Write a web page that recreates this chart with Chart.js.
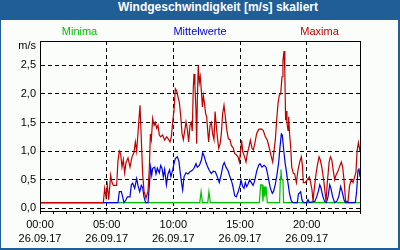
<!DOCTYPE html>
<html lang="de">
<head>
<meta charset="utf-8">
<title>Windgeschwindigkeit</title>
<script src="https://cdn.jsdelivr.net/npm/chart.js@4/dist/chart.umd.min.js"></script>
<style>
  html, body { margin: 0; padding: 0; background: #fff; }
  #rahmen {
    position: relative; width: 400px; height: 250px; box-sizing: border-box;
    background: #fafdfa; border-style: solid; border-color: #1f5e96;
    border-width: 20px 2px 2px 1px;
  }
  #titel {
    position: absolute; left: -1px; top: -20px; width: 400px; height: 20px;
    line-height: 20px; box-sizing: border-box; padding-left: 36px;
    text-align: center; color: #fff;
    font: bold 12px 'Liberation Sans', Arial, sans-serif;
  }
  #diagramm { display: block; }
</style>
</head>
<body>
<div id="rahmen">
  <div id="titel">Windgeschwindigkeit [m/s] skaliert</div>
  <canvas id="diagramm" width="397" height="228"></canvas>
</div>
<script>
const maxStunden = [0, 4.75, 4.85, 4.95, 5.05, 5.15, 5.3, 5.4, 5.5, 5.75, 5.85, 5.95, 6.05, 6.15, 6.25, 6.35, 6.45, 6.6, 6.75, 6.9,
  7.05, 7.15, 7.25, 7.4, 7.5, 7.6, 7.7, 7.8, 7.95, 8.1, 8.2, 8.28, 8.35, 8.45, 8.55, 8.65, 8.75, 8.85, 8.95, 9.05,
  9.2, 9.35, 9.5, 9.6, 9.75, 9.85, 9.95, 10.05, 10.15, 10.25, 10.35, 10.45, 10.55, 10.65, 10.75, 10.85, 10.95, 11.05, 11.15, 11.25,
  11.35, 11.42, 11.5, 11.55, 11.62, 11.7, 11.75, 11.8, 11.87, 11.95, 12.02, 12.1, 12.18, 12.25, 12.33, 12.42, 12.5, 12.58, 12.65, 12.75,
  12.85, 12.95, 13.05, 13.13, 13.22, 13.3, 13.4, 13.5, 13.6, 13.7, 13.8, 13.9, 14.0, 14.12, 14.25, 14.35, 14.5, 14.6, 14.75, 14.85,
  14.95, 15.05, 15.12, 15.2, 15.3, 15.45, 15.55, 15.65, 15.78, 15.9, 16.0, 16.1, 16.25, 16.4, 16.6, 16.75, 16.9, 17.05, 17.2, 17.35,
  17.45, 17.55, 17.65, 17.75, 17.85, 17.95, 18.05, 18.15, 18.22, 18.3, 18.36, 18.42, 18.47, 18.52, 18.6, 18.65, 18.72, 18.8, 18.88, 19.0,
  19.1, 19.23, 19.35, 19.48, 19.6, 19.68, 19.75, 19.9, 20.05, 20.2, 20.3, 20.4, 20.48, 20.55, 20.7, 20.8, 20.93, 21.03, 21.15, 21.3,
  21.45, 21.55, 21.68, 21.78, 21.88, 22.0, 22.1, 22.2, 22.35, 22.5, 22.6, 22.7, 22.8, 22.92, 23.1, 23.22, 23.35, 23.48, 23.6, 23.7,
  23.78, 23.88, 24.0];
const maxWerte = [0.1, 0.1, 0.35, 0.2, 0.4, 0.15, 0.58, 0.45, 0.4, 0.4, 0.84, 1.0, 0.95, 0.72, 0.85, 0.62, 0.8, 0.88, 0.72, 0.9,
  0.98, 1.16, 1.0, 1.48, 1.8, 1.2, 0.6, 0.3, 0.18, 0.3, 0.7, 1.3, 1.2, 1.57, 1.45, 1.5, 1.4, 1.45, 1.28, 1.25,
  1.28, 1.19, 1.25, 1.22, 1.16, 1.25, 1.51, 1.71, 2.09, 2.05, 1.95, 1.85, 1.63, 1.31, 1.2, 1.35, 1.51, 1.38, 1.16, 1.45,
  1.5, 1.35, 2.12, 2.35, 2.15, 1.7, 1.13, 1.9, 2.5, 2.2, 2.3, 2.06, 1.77, 1.97, 1.85, 1.66, 1.6, 1.35, 1.16, 1.45,
  1.5, 1.3, 1.2, 1.69, 1.45, 1.25, 1.05, 1.12, 1.3, 1.66, 1.8, 1.6, 1.39, 1.22, 1.2, 1.1, 1.05, 0.96, 0.93, 0.9,
  0.81, 1.0, 1.19, 1.0, 0.93, 0.81, 0.96, 1.05, 1.19, 1.05, 1.02, 1.12, 1.31, 1.38, 1.39, 1.36, 1.25, 1.19, 1.05, 0.9,
  0.81, 1.0, 1.2, 1.54, 1.83, 1.98, 2.0, 2.3, 2.58, 2.75, 2.4, 1.54, 1.7, 1.5, 1.36, 1.6, 1.3, 1.07, 0.72, 0.61,
  0.6, 0.45, 0.67, 0.81, 0.9, 0.75, 0.45, 0.45, 0.5, 0.55, 0.45, 0.32, 0.12, 0.3, 0.6, 0.75, 0.9, 0.84, 0.7, 0.45,
  0.12, 0.45, 0.8, 0.9, 0.85, 0.65, 0.5, 0.58, 0.65, 0.75, 0.81, 0.72, 0.5, 0.12, 0.12, 0.4, 0.5, 0.45, 0.55, 0.64,
  1.0, 1.15, 1.0];

const mittelStunden = [0, 5.85, 5.95, 6.1, 6.2, 6.3, 6.45, 6.55, 6.75, 6.85, 6.95, 7.1, 7.25, 7.35, 7.48, 7.6, 7.7, 7.8, 7.92, 8.1,
  8.2, 8.3, 8.38, 8.45, 8.6, 8.7, 8.8, 8.95, 9.05, 9.15, 9.25, 9.35, 9.48, 9.6, 9.72, 9.82, 9.95, 10.05, 10.15, 10.3,
  10.42, 10.52, 10.62, 10.7, 10.8, 10.95, 11.1, 11.25, 11.4, 11.55, 11.7, 11.8, 11.95, 12.1, 12.2, 12.3, 12.45, 12.58, 12.7, 12.85,
  13.0, 13.15, 13.3, 13.45, 13.6, 13.72, 13.82, 13.95, 14.1, 14.25, 14.4, 14.5, 14.6, 14.72, 14.85, 15.0, 15.08, 15.2, 15.3, 15.4,
  15.5, 15.6, 15.72, 15.85, 15.98, 16.1, 16.25, 16.4, 16.5, 16.65, 16.8, 16.95, 17.05, 17.15, 17.28, 17.42, 17.52, 17.65, 17.78, 17.9,
  18.0, 18.1, 18.17, 18.28, 18.38, 18.48, 18.6, 18.72, 18.85, 18.98, 19.3, 19.38, 19.55, 19.65, 19.75, 20.0, 20.1, 20.2, 20.6, 20.75,
  20.88, 20.98, 21.08, 21.22, 21.35, 21.48, 21.6, 21.73, 21.82, 21.95, 22.1, 22.25, 22.4, 22.55, 22.65, 22.8, 22.9, 23.65, 23.75, 23.85,
  23.92, 24.0];
const mittelWerte = [0.1, 0.1, 0.29, 0.29, 0.2, 0.1, 0.15, 0.2, 0.2, 0.41, 0.44, 0.35, 0.52, 0.4, 0.29, 0.4, 0.36, 0.2, 0.1, 0.1,
  0.4, 0.72, 0.58, 0.7, 0.72, 0.6, 0.7, 0.62, 0.75, 0.7, 0.55, 0.68, 0.41, 0.6, 0.67, 0.55, 0.67, 0.78, 0.87, 0.9,
  0.82, 0.62, 0.44, 0.32, 0.55, 0.62, 0.6, 0.64, 0.66, 0.7, 0.78, 0.72, 0.75, 0.84, 0.97, 0.92, 0.8, 0.72, 0.66, 0.61,
  0.65, 0.64, 0.55, 0.45, 0.6, 0.75, 0.8, 0.72, 0.66, 0.55, 0.45, 0.35, 0.22, 0.2, 0.28, 0.4, 0.49, 0.38, 0.35, 0.45,
  0.38, 0.42, 0.5, 0.45, 0.4, 0.48, 0.65, 0.75, 0.78, 0.72, 0.75, 0.72, 0.62, 0.5, 0.35, 0.26, 0.3, 0.42, 0.6, 0.8,
  1.07, 1.3, 1.28, 1.02, 0.8, 0.64, 0.44, 0.25, 0.13, 0.1, 0.1, 0.25, 0.29, 0.15, 0.1, 0.1, 0.15, 0.1, 0.12, 0.2,
  0.3, 0.41, 0.35, 0.2, 0.12, 0.1, 0.2, 0.41, 0.35, 0.2, 0.1, 0.12, 0.2, 0.38, 0.3, 0.15, 0.1, 0.1, 0.3, 0.67,
  0.7, 0.55];

const minStunden = [0, 11.98, 12.08, 12.18, 12.58, 12.67, 12.77, 16.45, 16.55, 16.65, 16.72, 16.8, 16.87, 16.95, 17.05,
  17.97, 18.03, 18.07, 18.12, 18.22, 18.27, 24.0];
const minWerte = [0.1, 0.1, 0.29, 0.1, 0.1, 0.29, 0.1, 0.1, 0.41, 0.41, 0.12, 0.38, 0.2, 0.38, 0.1,
  0.1, 0.55, 0.68, 0.5, 0.5, 0.1, 0.1];

const reihenNamen = ['Maxima', 'Mittelwerte', 'Minima'];
const reihenFarben = ['#c00000', '#0000e0', '#00c000'];

const xTickStunden = [0, 5, 10, 15, 20];
const xTickZeiten = ['00:00', '05:00', '10:00', '15:00', '20:00'];
const xTickDaten = ['26.09.17', '26.09.17', '26.09.17', '26.09.17', '26.09.17'];
const yTickTexte = ['0,0', '0,5', '1,0', '1,5', '2,0', '2,5'];
const yEinheit = 'm/s';

const schrift = "'Liberation Sans', Arial, sans-serif";
const punkte = (st, we) => st.map((h, i) => ({ x: h, y: we[i] }));

// Rahmen, Legendentexte und Einheit selbst zeichnen
const beschriftung = {
  id: 'beschriftung',
  afterDraw(chart) {
    const { ctx, chartArea: a } = chart;
    ctx.save();
    ctx.strokeStyle = '#000';
    ctx.lineWidth = 1;
    ctx.strokeRect(a.left + 0.5, a.top + 0.5, a.right - a.left, a.bottom - a.top);
    ctx.font = '11px ' + schrift;
    ctx.textBaseline = 'middle';
    ctx.textAlign = 'center';
    // Minima links, Mittelwerte Mitte, Maxima rechts
    const lx = [a.left + 39.5, (a.left + a.right) / 2, a.right - 40.5];
    [2, 1, 0].forEach((r, i) => {
      ctx.fillStyle = reihenFarben[r];
      ctx.fillText(reihenNamen[r], lx[i], 12);
    });
    ctx.fillStyle = '#000';
    ctx.textAlign = 'right';
    ctx.fillText(yEinheit, a.left - 4, a.top + 5);
    ctx.restore();
  }
};

new Chart(document.getElementById('diagramm'), {
  type: 'line',
  data: {
    datasets: [
      { label: reihenNamen[0], data: punkte(maxStunden, maxWerte), borderColor: reihenFarben[0] },
      { label: reihenNamen[1], data: punkte(mittelStunden, mittelWerte), borderColor: reihenFarben[1] },
      { label: reihenNamen[2], data: punkte(minStunden, minWerte), borderColor: reihenFarben[2] }
    ]
  },
  options: {
    responsive: false,
    animation: false,
    layout: { padding: { top: 21, right: 38, left: 0, bottom: 0 } },
    elements: {
      line: { borderWidth: 1.2, tension: 0, fill: false },
      point: { radius: 0 }
    },
    plugins: { legend: { display: false }, title: { display: false }, tooltip: { enabled: false } },
    scales: {
      x: {
        type: 'linear',
        min: 0,
        max: 24,
        afterFit(s) { s.height = 37; },
        border: { display: true, color: '#000', width: 1, dash: [4, 3] },
        grid: {
          color: c => (c.tick && c.tick.value % 5 === 0 && c.tick.value > 0 && c.tick.value < 24) ? '#000' : 'rgba(0,0,0,0)',
          lineWidth: 1,
          tickColor: '#000',
          tickLength: 3,
          tickBorderDash: []
        },
        ticks: {
          stepSize: 1,
          autoSkip: false,
          maxRotation: 0,
          padding: 3,
          color: '#000',
          font: { family: schrift, size: 11, lineHeight: 1.36 },
          callback: v => {
            const i = xTickStunden.indexOf(v);
            return i < 0 ? '' : [xTickZeiten[i], xTickDaten[i]];
          }
        }
      },
      y: {
        min: -0.047,
        max: 2.925,
        afterFit(s) { s.width = 39; },
        border: { display: true, color: '#000', width: 1, dash: [4, 3] },
        grid: { color: '#000', lineWidth: 1, drawTicks: false },
        ticks: {
          stepSize: 0.5,
          includeBounds: false,
          padding: 4,
          color: '#000',
          font: { family: schrift, size: 11 },
          callback: (v, i) => yTickTexte[i]
        }
      }
    }
  },
  plugins: [beschriftung]
});
</script>
</body>
</html>
